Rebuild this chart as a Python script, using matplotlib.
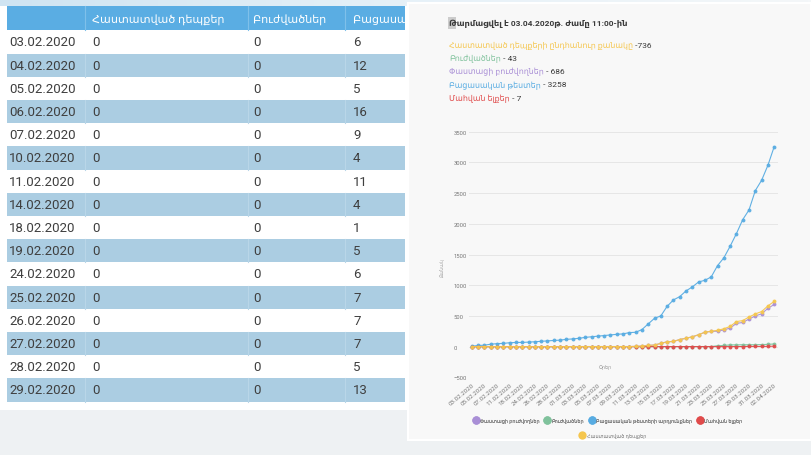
import matplotlib
matplotlib.use("Agg")
import matplotlib.pyplot as plt
from matplotlib.patches import Rectangle
from matplotlib.lines import Line2D
import numpy as np

plt.rcParams["font.family"] = ["Roboto", "DejaVu Sans"]

# ---- table data (left panel) ----
table_header = ["", "Հաստատված դեպքեր", "Բուժվածներ", "Բացասական թեստեր"]
table_dates = ["03.02.2020", "04.02.2020", "05.02.2020", "06.02.2020",
               "07.02.2020", "10.02.2020", "11.02.2020", "14.02.2020",
               "18.02.2020", "19.02.2020", "24.02.2020", "25.02.2020",
               "26.02.2020", "27.02.2020", "28.02.2020", "29.02.2020"]
table_confirmed = [0, 0, 0, 0, 0, 0, 0, 0, 0, 0, 0, 0, 0, 0, 0, 0]
table_recovered = [0, 0, 0, 0, 0, 0, 0, 0, 0, 0, 0, 0, 0, 0, 0, 0]
table_negative = [6, 12, 5, 16, 9, 4, 11, 4, 1, 5, 6, 7, 7, 7, 5, 13]

# ---- chart data (right panel) ----
chart_dates = table_dates + [f"{d:02d}.03.2020" for d in range(1, 32)] + ["01.04.2020", "02.04.2020"]
negative = [6, 18, 23, 39, 48, 52, 63, 67, 68, 73, 79, 86, 93, 100, 105, 118,
            125, 135, 150, 160, 170, 180, 190, 200, 207, 228, 233, 277, 370, 461,
            500, 656, 760, 814, 907, 972, 1053, 1080, 1135, 1319, 1445, 1634,
            1840, 2068, 2226, 2541, 2709, 2953, 3258]
confirmed = [0] * 16 + [1, 1, 1, 1, 1, 1, 1, 1, 1, 1, 4, 8, 18, 26, 52, 78, 84,
                        115, 136, 160, 194, 235, 249, 265, 290, 329, 407, 424,
                        482, 532, 571, 663, 736]
recovered = [0] * 35 + [1, 1, 1, 1, 14, 18, 28, 28, 30, 30, 31, 33, 36, 43]
deaths = [0] * 42 + [1, 1, 3, 3, 3, 4, 7]
active = [c - r - d for c, r, d in zip(confirmed, recovered, deaths)]

title = "Թարմացվել է 03.04.2020թ. ժամը 11:00-ին"
summary_labels = ["Հաստատված դեպքերի ընդհանուր քանակը", "Բուժվածներ",
                  "Փաստացի բուժվողներ", "Բացասական թեստեր", "Մահվան ելքեր"]
summary_values = [" -736", " - 43", " - 686", " - 3258", " - 7"]

C_YELLOW = "#f5c64e"
C_GREEN = "#80c29c"
C_PURPLE = "#a98fd6"
C_BLUE = "#58ace2"
C_RED = "#e04b4b"
summary_colors = [C_YELLOW, C_GREEN, C_PURPLE, C_BLUE, C_RED]

W, H = 811, 456
fig = plt.figure(figsize=(W / 100, H / 100), dpi=100, facecolor="#eef1f3")

# canvas axes in pixel coordinates
cv = fig.add_axes([0, 0, 1, 1])
cv.set_xlim(0, W)
cv.set_ylim(H, 0)
cv.axis("off")

# top light blue band
grad = np.linspace(0, 1, 256).reshape(1, -1)
cv.imshow(grad, extent=(0, W, 7, 0), cmap=matplotlib.colors.LinearSegmentedColormap.from_list(
    "band", ["#cfe4f2", "#e6f1f8", "#f4f7f9"]), aspect="auto", zorder=0)

# left panel white area
cv.add_patch(Rectangle((0, 7), 408, 404, facecolor="white", edgecolor="none", zorder=1))

# table
col_x = [7, 85, 248, 345, 405]
text_x = [9, 92, 253, 353]
row_top = 31.4
row_h = 23.2
cv.add_patch(Rectangle((col_x[0], 7), col_x[-1] - col_x[0], row_top - 7,
                       facecolor="#5aade3", edgecolor="none", zorder=2))
clip_box = Rectangle((0, 0), col_x[-1], H, transform=cv.transData)
for j, lab in enumerate(table_header):
    if lab:
        cv.text(text_x[j], 19.5, lab, color="white", fontsize=8.0,
                va="center", ha="left", zorder=3, clip_on=True, clip_path=clip_box)
for xx in col_x[1:-1]:
    cv.plot([xx, xx], [7, row_top], color="#7fc0ea", lw=0.8, zorder=3)

for i, d in enumerate(table_dates):
    y0 = row_top + i * row_h
    if i % 2 == 1:
        cv.add_patch(Rectangle((col_x[0], y0), col_x[-1] - col_x[0], row_h,
                               facecolor="#abcde2", edgecolor="none", zorder=2))
        for xx in col_x[1:-1]:
            cv.plot([xx, xx], [y0, y0 + row_h], color="#b9d6e8", lw=0.8, zorder=2.5)
    yc = y0 + row_h / 2
    vals = [d, table_confirmed[i], table_recovered[i], table_negative[i]]
    for j, v in enumerate(vals):
        cv.text(text_x[j], yc, str(v), color="#3f3f3f", fontsize=9.5,
                va="center", ha="left", zorder=3)

# right card
cv.add_patch(Rectangle((408, 4), W - 408, 437, facecolor="#f8f8f8",
                       edgecolor="#ffffff", lw=1.5, zorder=4))

# title (first letter shown selected) and summary
cv.add_patch(Rectangle((448, 18), 8, 12, facecolor="#cccccc", edgecolor="none", zorder=5))
cv.text(449, 24, title, fontsize=6.0, fontweight="bold", color="#3a3a3a",
        va="center", ha="left", zorder=6)
for k, (lab, val, col) in enumerate(zip(summary_labels, summary_values, summary_colors)):
    yy = 45.5 + k * 13.3
    t = cv.text(449, yy, lab, fontsize=5.7, color=col, va="center", ha="left", zorder=6)
    cv.annotate(val, xy=(1, 0.5), xycoords=t, fontsize=6.0, color="#3a3a3a",
                va="center", ha="left", zorder=6)

# chart axes
ax_l, ax_r, ax_t, ax_b = 469, 778, 132.7, 378.3
ax = fig.add_axes([ax_l / W, 1 - ax_b / H, (ax_r - ax_l) / W, (ax_b - ax_t) / H])
ax.set_facecolor("none")
x = np.arange(len(chart_dates))

series = [
    ("Փաստացի բուժվողներ", active, C_PURPLE),
    ("Բուժվածներ", recovered, C_GREEN),
    ("Բացասական թեստերի արդյունքներ", negative, C_BLUE),
    ("Մահվան ելքեր", deaths, C_RED),
    ("Հաստատված դեպքեր", confirmed, C_YELLOW),
]
for name, vals, col in series:
    ax.plot(x, vals, color=col, lw=0.8, marker="o", markersize=2.8,
            markeredgewidth=0, alpha=0.95)

ax.set_xlim(-0.45, 48.6)
ax.set_ylim(-500, 3500)
ax.set_yticks(np.arange(-500, 3501, 500))
ax.grid(axis="y", color="#e6e6e6", lw=0.7)
ax.tick_params(axis="y", length=0, pad=10.8, labelsize=4.2, labelcolor="#777777")
for lab in ax.get_yticklabels():
    lab.set_horizontalalignment("left")
ax.set_xticks(x[::2])
ax.set_xticklabels(chart_dates[::2], rotation=40, ha="right", rotation_mode="anchor",
                   fontsize=4.4, color="#777777")
ax.tick_params(axis="x", length=0, pad=3)
for s in ax.spines.values():
    s.set_visible(False)
ax.text(0.44, 0.046, "Օրեր", transform=ax.transAxes, fontsize=3.6,
        color="#999999", ha="center", va="center")
ax.text(-0.085, 0.45, "Քանակ", transform=ax.transAxes, fontsize=3.4,
        color="#aaaaaa", ha="center", va="center", rotation=90)

# legend
def handle(col):
    return Line2D([], [], lw=0, marker="o", markersize=6, markeredgewidth=0,
                  markerfacecolor=col)

row1 = [series[0], series[1], series[2], series[3]]
leg1 = fig.legend([handle(s[2]) for s in row1], [s[0] for s in row1],
                  loc="center", bbox_to_anchor=(608 / W, 1 - 421.7 / H), ncol=4,
                  frameon=False, fontsize=3.6, handlelength=0.9, handletextpad=0.5,
                  columnspacing=1.0, labelcolor="#777777")
fig.add_artist(leg1)
fig.legend([handle(C_YELLOW)], [series[4][0]], loc="center",
           bbox_to_anchor=(613 / W, 1 - 436.7 / H), frameon=False, fontsize=3.6,
           handlelength=0.9, handletextpad=0.5, labelcolor="#777777")

fig.savefig("out.png", dpi=100, facecolor=fig.get_facecolor())
